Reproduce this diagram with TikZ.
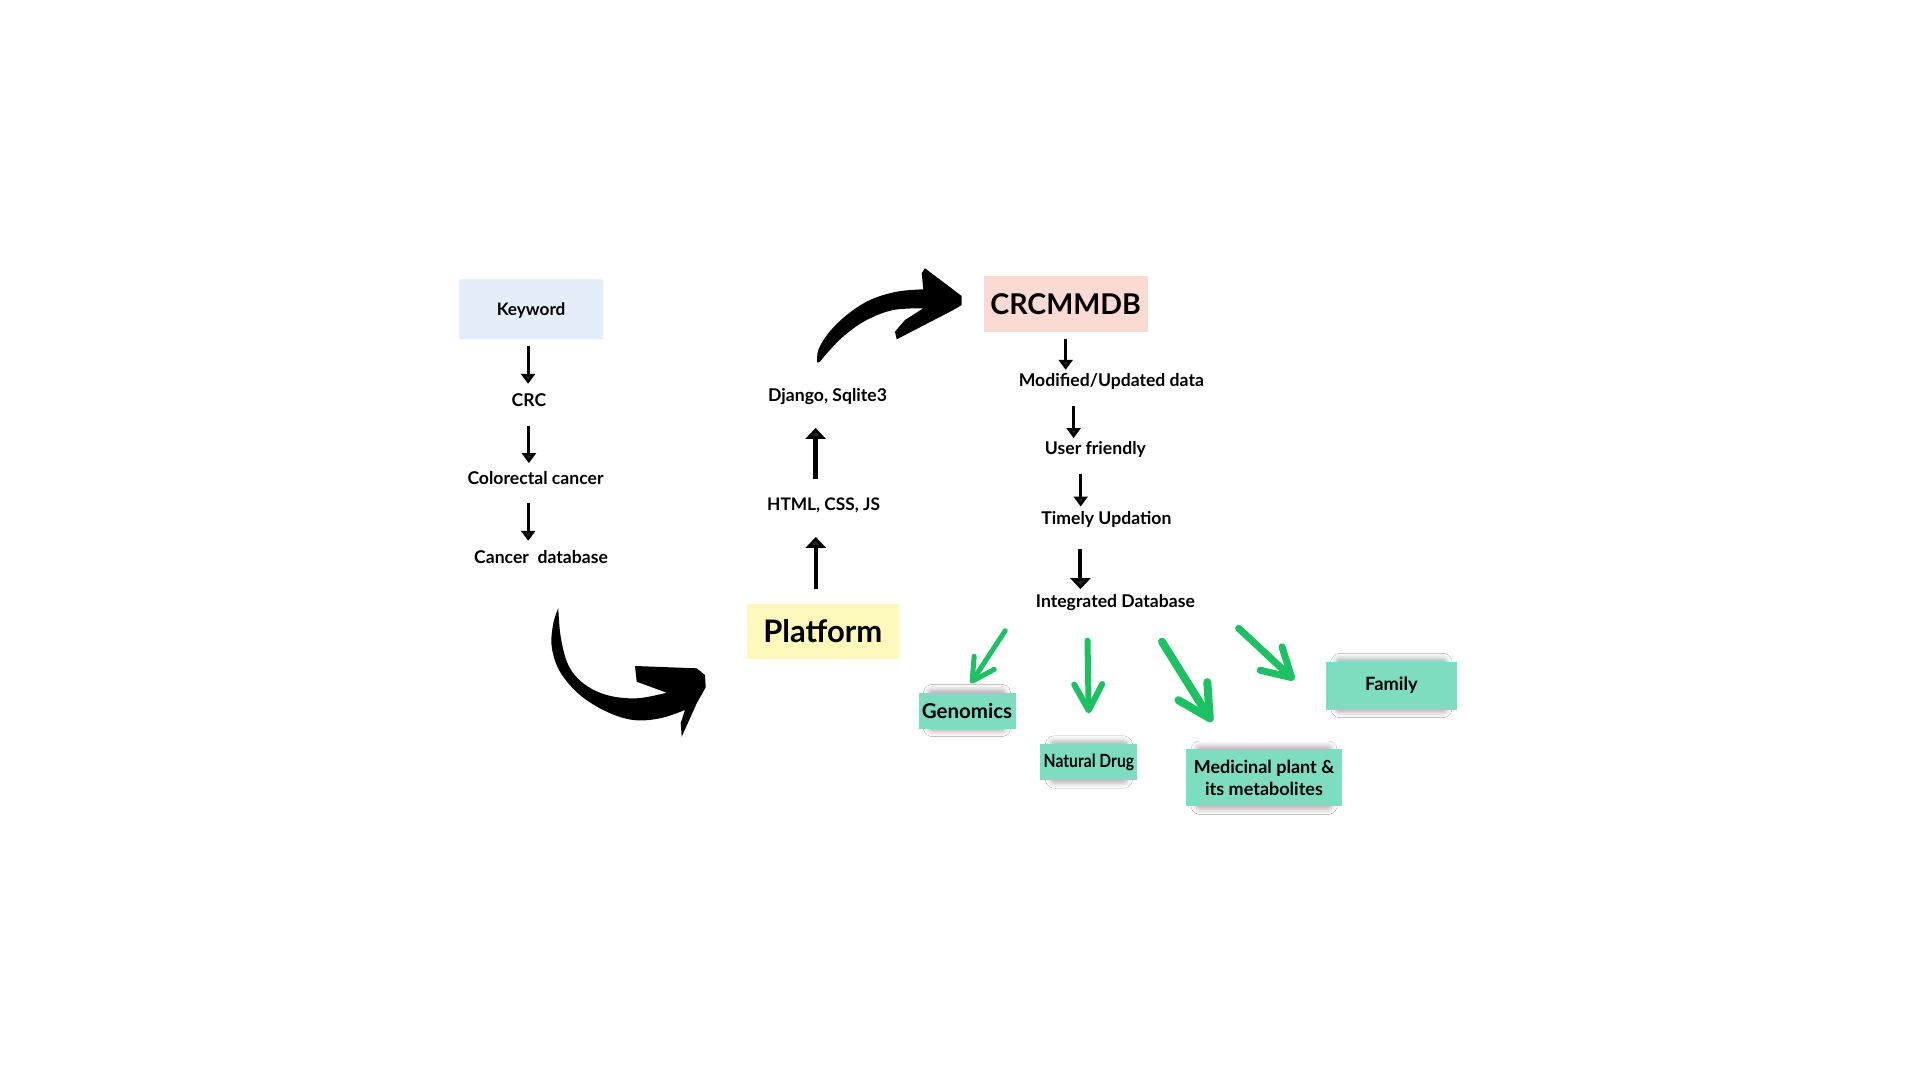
\documentclass[tikz,border=0pt]{standalone}
\usepackage{fontspec}
\setmainfont{Lato}
\newfontfamily\narrowfont[FakeStretch=0.86]{Lato}
\usetikzlibrary{arrows.meta,shadows.blur,backgrounds}
\definecolor{kwblue}{HTML}{E4EEFB}
\definecolor{dbpink}{HTML}{FADBD3}
\definecolor{pfyellow}{HTML}{FDF8BC}
\definecolor{tealbox}{HTML}{7EDCC1}
\definecolor{arrgreen}{HTML}{1EC064}

\tikzset{
  lbl/.style={font=\bfseries\fontsize{#1}{#1}\selectfont, inner sep=0pt,
    text height=12pt, text depth=0pt},
  lbl/.default=17.6,
  bigbox/.style={font=\bfseries\fontsize{#1}{#1}\selectfont, inner sep=0pt,
    text height=21pt, text depth=0pt},
  tealnode/.style={fill=tealbox, inner sep=0pt},
  softshadow/.style={blur shadow={shadow xshift=0pt, shadow yshift=0pt,
    shadow blur radius=5pt, shadow blur extra rounding=4pt, shadow opacity=30}},
  blk/.style={line width=3pt, -{Triangle[width=14pt,length=10pt]}},
  blkup/.style={line width=4.5pt, -{Triangle[width=20pt,length=11pt]}},
  grn/.style={arrgreen, line width=6pt, line cap=round,
    -{Straight Barb[length=26pt,width=28pt,round]}},
  brush/.style={fill=black}
}

\begin{document}
\begin{tikzpicture}[x=1pt, y=-1pt]

    \useasboundingbox (0,0) rectangle (1920,1080);

    \node[fill=kwblue, rounded corners=2pt, minimum width=144pt,
          minimum height=60pt, lbl=17.2] (kw) at (531.1,309.3) {Keyword};
    \node[lbl] (crc) at (528.9,400) {CRC};
    \node[lbl] (col) at (535.5,478.3) {Colorectal cancer};
    \node[lbl] (cdb) at (541,557.3) {Cancer\ \ database};

    \node[fill=pfyellow, minimum width=152pt, minimum height=55pt,
          bigbox=31] (plat) at (822.8,631.7) {Platform};
    \node[lbl=17.3] (html) at (823.6,504.3) {HTML, CSS, JS};
    \node[lbl] (dj) at (827.6,395.7) {Django, Sqlite3};

    \node[fill=dbpink, minimum width=164pt, minimum height=56pt,
          bigbox=28.6] (crcm) at (1065.7,303.7) {CRCMMDB};
    \node[lbl] (mod) at (1111.4,380) {Modified/Updated data};
    \node[lbl] (uf) at (1095.4,448.3) {User friendly};
    \node[lbl] (tu) at (1106.4,518.3) {Timely Updation};
    \node[lbl] (idb) at (1115.4,601.7) {Integrated Database};

    \node[tealnode, minimum width=97pt, minimum height=36pt,
          font=\bfseries\fontsize{20.5}{20.5}\selectfont] (gen) at (967,710.5) {Genomics};
    \node[tealnode, minimum width=97pt, minimum height=36pt,
          font=\narrowfont\bfseries\fontsize{18.2}{18.2}\selectfont] (nat) at (1088.9,762) {Natural Drug};
    \node[tealnode, minimum width=156pt, minimum height=57pt, align=center,
          font=\bfseries\fontsize{18}{22.3}\selectfont] (med) at (1264,777.7) {Medicinal plant \&\\its metabolites};
    \node[tealnode, minimum width=131pt, minimum height=48pt,
          font=\bfseries\fontsize{18.3}{18.3}\selectfont] (fam) at (1391.4,685.5) {Family};

    \begin{pgfonlayer}{background}
        \fill[white] (0,0) rectangle (1920,1080);
        \foreach \t in {gen,nat,med,fam}
            \path[softshadow] ([xshift=10pt,yshift=-3pt]\t.south west) rectangle ([xshift=-10pt,yshift=3pt]\t.north east);
    \end{pgfonlayer}

    \draw[blk, shorten <=6.7pt, shorten >=10pt] ([xshift=-3pt]kw.south) -- ([xshift=-3pt]kw.south |- crc.north);
    \draw[blk, shorten <=19.7pt, shorten >=9pt] (crc.south) -- (crc.south |- col.north);
    \draw[blk, shorten <=18.4pt, shorten >=10.3pt] ([xshift=-7.3pt]col.south) -- ([xshift=-7.3pt]col.south |- cdb.north);

    \draw[blkup, shorten <=14.7pt, shorten >=26.4pt] ([xshift=-7pt]plat.north) -- ([xshift=-7pt]plat.north |- html.south);
    \draw[blkup, shorten <=19pt, shorten >=26pt] ([xshift=-8pt]html.north) -- ([xshift=-8pt]html.north |- dj.south);

    \draw[blk, line width=2.5pt, shorten <=6.6pt, shorten >=4pt] (crcm.south) -- (crcm.south |- mod.north);
    \draw[blk, line width=2.5pt, shorten <=19.7pt, shorten >=4pt] ([xshift=-37.8pt]mod.south) -- ([xshift=-37.8pt]mod.south |- uf.north);
    \draw[blk, line width=2.8pt, shorten <=19pt, shorten >=5.6pt] ([xshift=-14.7pt]uf.south) -- ([xshift=-14.7pt]uf.south |- tu.north);
    \draw[blkup, line width=4pt, shorten <=24pt, shorten >=6.4pt] ([xshift=-26pt]tu.south) -- ([xshift=-26pt]tu.south |- idb.north);

    \fill[brush] plot[smooth, tension=0.6] coordinates {(558.3,608.3) (560.7,636.7) (568.3,665) (583.3,683.3) (606.7,695) (636.7,698.3) (666.7,692.7)}
        -- (636.7,681.7) -- (635,666) -- (696.7,668.3) -- (705,675) -- (705.7,687.3) -- (696.7,703.3) -- (681.7,736.7) -- (680.7,723.3)
        -- plot[smooth, tension=0.6] coordinates {(685,710) (660,718.3) (633.3,720) (606.7,711.7) (580,695) (560,671.7) (551.7,646.7) (553.3,623.3) (558.3,608.3)} -- cycle;

    \fill[brush] plot[smooth, tension=0.6] coordinates {(817.3,362.7) (818.3,350) (828.3,333.3) (846.7,315) (870,300) (896.7,291.7) (923.3,289.3)}
        -- (921.7,273.3) -- (925,268.3) -- (961.7,296) -- (961.7,305) -- (953.3,310) -- (896.7,339.3) -- (895,331.7) -- (905,320)
        -- plot[smooth, tension=0.6] coordinates {(923.3,308.3) (893.3,310) (866.7,320) (845,335) (828.3,351.7) (820,361.7)} -- cycle;

    \coordinate (g1a) at (1005.2,630.7);
    \coordinate (g1b) at (970.8,683.3);
    \coordinate (g2a) at (1087.5,640.7);
    \coordinate (g2b) at (1088.7,713.3);
    \coordinate (g3a) at (1162,641.7);
    \coordinate (g3b) at (1211.9,721.7);
    \coordinate (g4a) at (1238.7,628.3);
    \coordinate (g4b) at (1294.2,680);

    \draw[grn, line width=5pt, -{Straight Barb[length=22pt,width=24pt,round]}] (g1a) -- (g1b);
    \draw[grn] (g2a) -- (g2b);
    \draw[grn, line width=8pt, -{Straight Barb[length=32pt,width=34pt,round]}] (g3a) -- (g3b);
    \draw[grn, line width=7pt, -{Straight Barb[length=28pt,width=32pt,round]}] (g4a) -- (g4b);

\end{tikzpicture}
\end{document}
